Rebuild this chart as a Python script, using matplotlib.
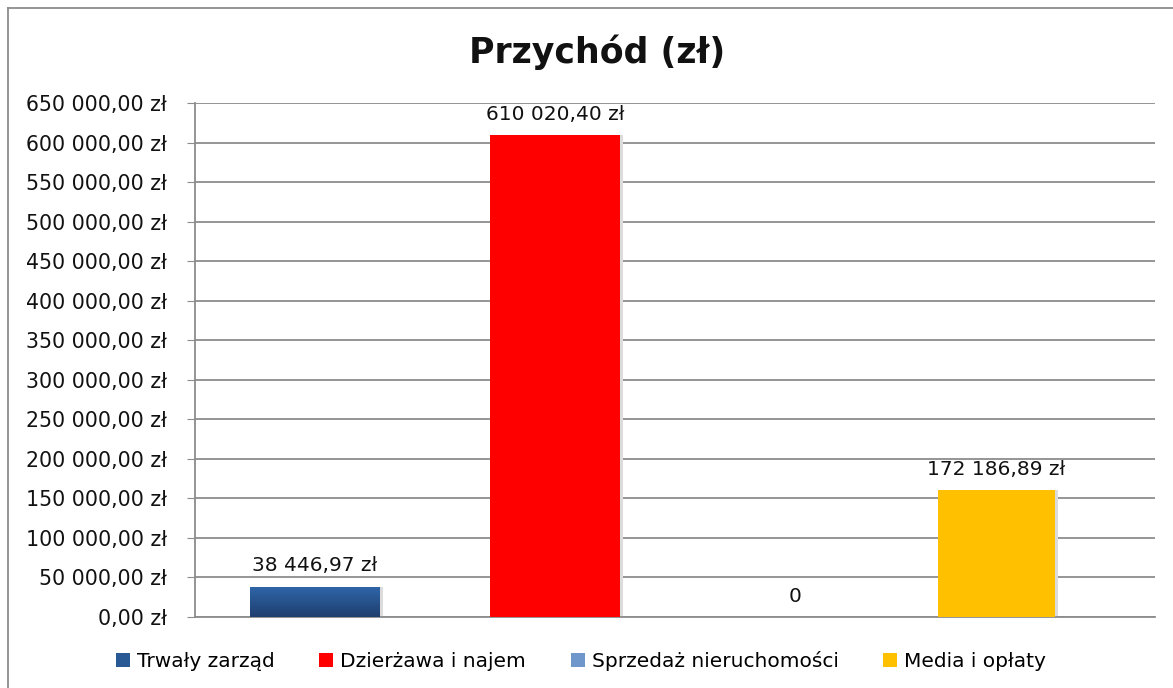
import matplotlib
matplotlib.use("Agg")
import matplotlib.pyplot as plt
import numpy as np
from matplotlib.patches import Patch
from matplotlib.lines import Line2D
from matplotlib.ticker import FuncFormatter
from matplotlib.colors import LinearSegmentedColormap

plt.rcParams['font.family'] = ['DejaVu Sans']

series = ["Trwały zarząd", "Dzierżawa i najem", "Sprzedaż nieruchomości", "Media i opłaty"]
values = [38446.97, 610020.40, 0.0, 160600.0]
value_labels = ["38 446,97 zł", "610 020,40 zł", "0", "172 186,89 zł"]
positions = [0.5, 1.5, 2.5, 3.34]
widths = [0.54, 0.54, 0.54, 0.49]
colors = ["#2a5a96", "#ff0000", "#7097cb", "#ffc000"]
title = "Przychód (zł)"
yticks = list(range(0, 650001, 50000))

W, H = 1173, 688
fig = plt.figure(figsize=(W/100, H/100), dpi=100)
ax = fig.add_axes([195/W, 1-617/H, 960/W, 514/H])

for i, (p, v, w, c, lab) in enumerate(zip(positions, values, widths, colors, value_labels)):
    if v > 0:
        ax.bar(p + 0.012, v, width=w, color="#dcdcdc", zorder=2)
        bars = ax.bar(p, v, width=w, color=c, zorder=3)
        if i == 0:
            grad = np.linspace(0, 1, 64).reshape(-1, 1)
            cmap = LinearSegmentedColormap.from_list("b", ["#1f3f6e", "#2f66aa"])
            im = ax.imshow(grad, cmap=cmap, aspect="auto", origin="lower",
                           extent=[p - w/2, p + w/2, 0, v], zorder=4)
            im.set_clip_path(bars[0])
    ax.annotate(lab, (p, v), xytext=(0, 8), textcoords="offset points",
                ha="center", va="bottom", fontsize=14.5, color="#111111", zorder=5)

ax.set_xlim(0, 4)
ax.set_ylim(0, 650000)
ax.set_yticks(yticks)
def fmt(v, pos):
    s = f"{int(v):,}".replace(",", " ")
    return s + ",00 zł"
ax.yaxis.set_major_formatter(FuncFormatter(fmt))
ax.tick_params(axis="y", labelsize=14.8, length=6, color="#8c8c8c", pad=14, labelcolor="#111111")
ax.set_xticks([])
ax.grid(axis="y", color="#8c8c8c", linewidth=1.3, zorder=0)
ax.set_axisbelow(True)
for s in ["top", "right"]:
    ax.spines[s].set_visible(False)
for s in ["left", "bottom"]:
    ax.spines[s].set_color("#8c8c8c")
    ax.spines[s].set_linewidth(1.3)

fig.text(597/W, 1-52/H, title, ha="center", va="center", fontsize=25, fontweight="bold", color="#111111")

handles = [Patch(facecolor=c, edgecolor="none") for c in colors]
fig.legend(handles, series, loc="center", bbox_to_anchor=(581/W, 1-661/H), ncol=4,
           frameon=False, fontsize=14.5, handlelength=0.7, handleheight=0.7,
           handletextpad=0.35, columnspacing=2.2)

fig.add_artist(Line2D([8/W, 8/W], [0, 1-8/H], color="#8c8c8c", linewidth=1.3, transform=fig.transFigure))
fig.add_artist(Line2D([8/W, 1], [1-8/H, 1-8/H], color="#8c8c8c", linewidth=1.3, transform=fig.transFigure))

fig.savefig("out.png", dpi=100)
